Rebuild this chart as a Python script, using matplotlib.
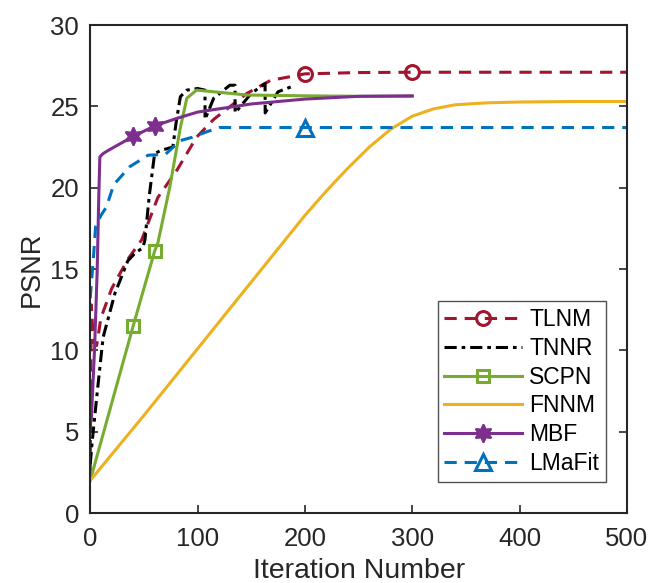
import matplotlib
matplotlib.use("Agg")
import matplotlib.pyplot as plt
import numpy as np

plt.rcParams['font.family'] = ['Liberation Sans', 'DejaVu Sans']

# TLNM
tlnm_x = [0, 1, 3, 6, 10, 20, 35, 48, 63, 81, 99, 115, 146, 168, 200, 250, 300, 400, 500]
tlnm_y = [2.5, 12.8, 10.5, 10.3, 12.0, 13.8, 15.6, 16.8, 19.4, 21.1, 23.1, 24.2, 25.8, 26.6, 27.0, 27.08, 27.1, 27.1, 27.1]
tlnm_marks = [14, 16]

# TNNR
tnnr_x = [0, 2, 6.5, 12, 23, 35, 42, 49, 51, 55, 60, 66, 77, 80, 84, 90, 100, 106.9, 107, 115, 130, 134.9, 135, 150, 162.9, 163, 175, 187]
tnnr_y = [3.0, 4.5, 7.4, 10.8, 13.5, 15.5, 16.0, 16.3, 16.8, 19.5, 22.1, 22.3, 22.5, 24.0, 25.6, 26.0, 26.1, 26.0, 24.2, 25.5, 26.3, 26.3, 24.6, 25.8, 26.4, 24.6, 25.9, 26.2]

# SCPN
scpn_x = [0, 40, 60, 63, 74, 84, 90, 99, 115, 146, 200, 250, 300]
scpn_y = [2.0, 11.5, 16.1, 16.6, 20.0, 23.7, 25.5, 26.0, 25.9, 25.7, 25.65, 25.62, 25.62]
scpn_marks = [1, 2]

# FNNM
fnnm_x = [0, 50, 100, 150, 200, 220, 240, 260, 280, 300, 320, 340, 370, 400, 450, 500]
fnnm_y = [2.0, 6.0, 10.1, 14.2, 18.3, 19.8, 21.2, 22.5, 23.6, 24.4, 24.85, 25.1, 25.22, 25.27, 25.3, 25.3]

# MBF
mbf_x = [1, 4, 6.5, 8, 9, 12, 17, 25, 40, 60, 80, 100, 150, 200, 250, 300]
mbf_y = [5.7, 10.0, 14.9, 19.5, 21.9, 22.1, 22.3, 22.6, 23.15, 23.8, 24.25, 24.65, 25.15, 25.45, 25.62, 25.65]
mbf_marks = [8, 9]

# LMaFit
lmafit_x = [0, 3, 5, 10, 15, 22, 37, 54, 70, 84, 95, 109, 120, 200, 300, 400, 500]
lmafit_y = [13.2, 15.7, 17.6, 18.3, 18.8, 20.2, 21.3, 22.0, 22.05, 22.9, 23.1, 23.45, 23.7, 23.7, 23.7, 23.7, 23.7]
lmafit_marks = [13]

xticks = [0, 100, 200, 300, 400, 500]
yticks = [0, 5, 10, 15, 20, 25, 30]

fig = plt.figure(figsize=(6.49, 5.83), dpi=100)
ax = fig.add_axes([0.139, 0.120, 0.827, 0.837])

lw = 2.2
ax.plot(tlnm_x, tlnm_y, color='#A2142F', lw=lw, ls=(0, (4, 2.6)), marker='o', markevery=tlnm_marks,
        markersize=10, markerfacecolor='none', markeredgewidth=2.2, label='TLNM')
ax.plot(tnnr_x, tnnr_y, color='black', lw=lw, ls=(0, (4, 1.6, 1.2, 1.6)), label='TNNR')
ax.plot(scpn_x, scpn_y, color='#77AC30', lw=lw, ls='-', marker='s', markevery=scpn_marks,
        markersize=9, markerfacecolor='none', markeredgewidth=2.2, label='SCPN')
ax.plot(fnnm_x, fnnm_y, color='#EDB120', lw=lw, ls='-', label='FNNM')
ax.plot(mbf_x, mbf_y, color='#7E2F8E', lw=lw, ls='-', marker=(6, 1, 0), markevery=mbf_marks,
        markersize=13, markeredgewidth=1.5, label='MBF')
ax.plot(lmafit_x, lmafit_y, color='#0072BD', lw=lw, ls=(0, (4, 2.6)), marker='^', markevery=lmafit_marks,
        markersize=11, markerfacecolor='none', markeredgewidth=2.2, label='LMaFit')

ax.set_xlim(0, 500)
ax.set_ylim(0, 30)
ax.set_xticks(xticks)
ax.set_yticks(yticks)
ax.tick_params(direction='in', length=6, width=1.2, colors='#262626', labelsize=18.5,
               top=False, right=True, labelcolor='#262626')
ax.tick_params(axis='x', pad=10)
ax.tick_params(axis='y', pad=8)
for s in ax.spines.values():
    s.set_linewidth(1.5)
    s.set_color('#262626')
ax.set_xlabel('Iteration Number', fontsize=20.5, color='#262626', labelpad=5)
ax.set_ylabel('PSNR', fontsize=19.5, color='#262626', labelpad=4)

leg = ax.legend(loc='lower right', bbox_to_anchor=(0.961, 0.064), fontsize=16.5, handlelength=3.4,
                numpoints=1, frameon=True, fancybox=False, edgecolor='#262626',
                borderpad=0.3, labelspacing=0.25, handletextpad=0.3, borderaxespad=0)
leg.get_frame().set_linewidth(1.0)

fig.savefig('out.png', dpi=100)
